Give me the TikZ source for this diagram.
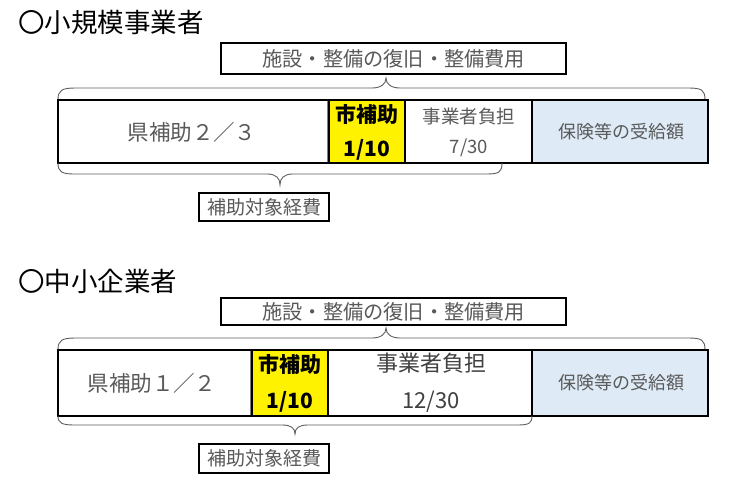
\documentclass[tikz,border=0pt]{standalone}
\usepackage{fontspec}
\newfontfamily\jp{Noto Sans CJK JP}
\definecolor{txtgray}{HTML}{595959}
\definecolor{txtdark}{HTML}{404040}
\definecolor{lblue}{HTML}{DEEBF7}
\definecolor{bracegray}{HTML}{606060}
\tikzset{
  cellbox/.style={anchor=north west, inner sep=0pt, outer sep=0pt, draw=none},
  outerline/.style={draw=black, line width=2.6pt},
  thindiv/.style={draw=gray, line width=0.8pt},
  yellowcell/.style={cellbox, fill=yellow},
  bluecell/.style={cellbox, fill=lblue},
  whitecell/.style={cellbox, fill=white},
  bracepath/.style={draw=bracegray, line width=0.9pt},
  labelbox/.style={anchor=north west, inner sep=0pt, draw=black, line width=2.4pt, fill=white},
  title/.style={anchor=west, inner sep=0pt, font=\jp\fontsize{26.5}{26.5}\selectfont, text=black},
  gtext/.style={inner sep=0pt, text=txtgray},
}
\begin{document}
\begin{tikzpicture}[x=1pt,y=-1pt]
\useasboundingbox (0,0) rectangle (740,486);
\fill[white] (0,0) rectangle (740,486);

% ================= Section 1 =================
\node[title] (t1) at (18,22) {〇小規模事業者};
\node[labelbox, minimum width=345pt, minimum height=31pt] (top1) at (220,42) {};
\node[gtext, font=\jp\fontsize{20.2}{20.2}\selectfont] (top1t) at (top1.center) {施設・整備の復旧・整備費用};

% brace over bar
\draw[bracepath] (58,100) .. controls (58,90) and (62,88) .. (76,88) -- (372,88)
  .. controls (381,88) and (386,84) .. (386,78)
  .. controls (386,84) and (391,88) .. (400,88) -- (688,88)
  .. controls (702,88) and (705,90) .. (705,100);

% cells
\node[whitecell, minimum width=269pt, minimum height=63pt] (k1) at (58,100) {};
\node[yellowcell, minimum width=76pt, minimum height=63pt] (y1) at (329,100) {};
\node[whitecell, minimum width=127pt, minimum height=63pt] (j1) at (405,100) {};
\node[bluecell, minimum width=176pt, minimum height=63pt] (h1) at (532,100) {};
\draw[thindiv] (k1.north east) -- (k1.south east);
\draw[draw=black, line width=2pt] (y1.north west) rectangle (y1.south east);
\draw[outerline] (j1.north east) -- (j1.south east);
\draw[outerline] (k1.north west) rectangle (h1.south east);

\node[gtext, font=\jp\fontsize{21.5}{21.5}\selectfont] (k1t) at (192,132) {県補助２／３};
\node[inner sep=0pt, font=\jp\bfseries\fontsize{21}{21}\selectfont] (y1a) at (367,115) {市補助};
\node[inner sep=0pt, font=\jp\bfseries\fontsize{21}{21}\selectfont] (y1b) at (367,150) {1/10};
\node[gtext, font=\jp\fontsize{18.5}{18.5}\selectfont] (j1a) at (469,117) {事業者負担};
\node[gtext, font=\jp\fontsize{18.5}{18.5}\selectfont] (j1b) at (469,148) {7/30};
\node[gtext, font=\jp\fontsize{18}{18}\selectfont] (h1t) at (621,132) {保険等の受給額};

% brace under bar
\draw[bracepath] (58,163) .. controls (58,172) and (62,174) .. (74,174) -- (267,174)
  .. controls (276,174) and (280,178) .. (280,185)
  .. controls (280,178) and (284,174) .. (293,174) -- (487,174)
  .. controls (499,174) and (502,172) .. (502,163);
\node[labelbox, line width=2pt, minimum width=130pt, minimum height=28pt] (sub1) at (198,192) {};
\node[gtext, font=\jp\fontsize{19}{19}\selectfont] (sub1t) at (sub1.center) {補助対象経費};

% ================= Section 2 =================
\node[title] (t2) at (18,281) {〇中小企業者};
\node[labelbox, minimum width=345pt, minimum height=27pt] (top2) at (220,297) {};
\node[gtext, font=\jp\fontsize{20.2}{20.2}\selectfont] (top2t) at (top2.center) {施設・整備の復旧・整備費用};

\draw[bracepath] (58,350) .. controls (58,340) and (62,338) .. (76,338) -- (372,338)
  .. controls (381,338) and (386,334) .. (386,328)
  .. controls (386,334) and (391,338) .. (400,338) -- (688,338)
  .. controls (702,338) and (705,340) .. (705,350);

\node[whitecell, minimum width=192pt, minimum height=66pt] (k2) at (58,350) {};
\node[yellowcell, minimum width=76pt, minimum height=66pt] (y2) at (252,350) {};
\node[whitecell, minimum width=204pt, minimum height=66pt] (j2) at (328,350) {};
\node[bluecell, minimum width=176pt, minimum height=66pt] (h2) at (532,350) {};
\draw[thindiv] (k2.north east) -- (k2.south east);
\draw[draw=black, line width=2pt] (y2.north west) rectangle (y2.south east);
\draw[outerline] (j2.north east) -- (j2.south east);
\draw[outerline] (k2.north west) rectangle (h2.south east);

\node[gtext, font=\jp\fontsize{21.5}{21.5}\selectfont] (k2t) at (152,383) {県補助１／２};
\node[inner sep=0pt, font=\jp\bfseries\fontsize{21}{21}\selectfont] (y2a) at (290,365) {市補助};
\node[inner sep=0pt, font=\jp\bfseries\fontsize{21}{21}\selectfont] (y2b) at (290,402) {1/10};
\node[inner sep=0pt, text=txtdark, font=\jp\fontsize{22}{22}\selectfont] (j2a) at (431,363) {事業者負担};
\node[inner sep=0pt, text=txtdark, font=\jp\fontsize{22}{22}\selectfont] (j2b) at (431,402) {12/30};
\node[gtext, font=\jp\fontsize{18}{18}\selectfont] (h2t) at (621,383) {保険等の受給額};

\draw[bracepath] (58,416) .. controls (58,423) and (62,425) .. (74,425) -- (282,425)
  .. controls (291,425) and (295,428) .. (295,434)
  .. controls (295,428) and (299,425) .. (308,425) -- (518,425)
  .. controls (529,425) and (532,423) .. (532,416);
\node[labelbox, line width=2pt, minimum width=130pt, minimum height=29pt] (sub2) at (198,443) {};
\node[gtext, font=\jp\fontsize{19}{19}\selectfont] (sub2t) at (sub2.center) {補助対象経費};
\end{tikzpicture}
\end{document}
